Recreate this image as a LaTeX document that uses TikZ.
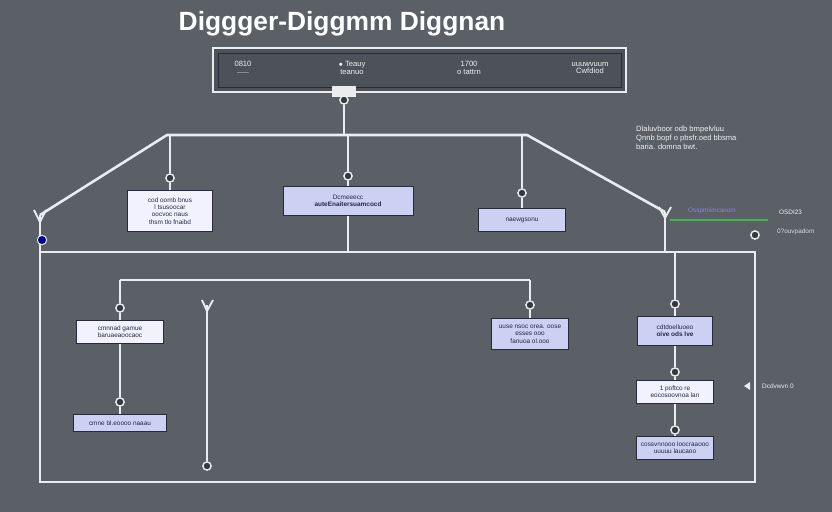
\documentclass[tikz,border=0pt]{standalone}
\usepackage{fontspec}
\setmainfont{Liberation Sans}
\usetikzlibrary{positioning}
\definecolor{bgray}{RGB}{90,96,102}
\definecolor{wline}{RGB}{234,236,240}
\definecolor{boxblue}{RGB}{204,208,242}
\definecolor{boxedge}{RGB}{38,42,58}
\definecolor{txtdark}{RGB}{36,38,70}
\definecolor{hintgreen}{RGB}{70,175,80}
\definecolor{hintpurple}{RGB}{150,125,235}

\begin{document}
\begin{tikzpicture}[x=0.03cm,y=-0.03cm,
    wire/.style={draw=wline, line width=2.2pt},
    dot/.style={circle, draw=wline, fill=bgray!60!black, line width=1.2pt, inner sep=0pt, minimum size=7pt},
    wbox/.style={draw=boxedge, fill=white!95!blue, line width=0.8pt, align=center, text=txtdark,
        font=\fontsize{5.5}{6.3}\selectfont, inner sep=1.5pt},
    bbox/.style={wbox, fill=boxblue},
    note/.style={text=white!88!gray, font=\fontsize{6.5}{7.6}\selectfont, align=left, anchor=west}]

    \useasboundingbox (0,0) rectangle (832,512);
    \fill[bgray] (0,0) rectangle (832,512);

    \node[text=white, font=\bfseries\fontsize{22.5}{25}\selectfont] (title) at (342,24) {Diggger-Diggmm Diggnan};

    % Top panel.
    \fill[bgray!85!black] (213,48) rectangle (626,92);
    \draw[wline, line width=2pt] (213,48) rectangle (626,92);
    \draw[boxedge, line width=0.8pt] (218,53) rectangle (621,87);
    \node[note, anchor=center, align=center] (p1) at (243,68) {0810\\[-1pt]{\tiny ------}};
    \node[note, anchor=center, align=center] (p2) at (352,68) {$\bullet$ Teauy\\[-1pt]teanuo};
    \node[note, anchor=center, align=center] (p3) at (469,68) {1700\\[-1pt]o tattrn};
    \node[note, anchor=center, align=center] (p4) at (590,68) {uuuwvuum\\[-1pt]Cwfdiod};
    \fill[wline] (332,86) rectangle (356,97);
    \node[dot] (d0) at (344,100) {};
    \coordinate (hub) at (344,135);

    % Upper row.
    \node[wbox, minimum width=72pt, minimum height=35pt] (b1) at (170,211) {cod oomb bnus\\l tsusoocar\\oocvoc naus\\thsm tlo fnaibd};
    \node[bbox, minimum width=111pt, minimum height=24pt] (b2) at (348,201) {Dcmeeecc\\\textbf{auteEnaitersuamcocd}};
    \node[bbox, minimum width=74pt, minimum height=20pt] (b3) at (522,220) {naewgsonu};
    \node[dot] (d1) at (170,178) {};
    \node[dot] (d2) at (348,176) {};
    \node[dot] (d3) at (522,193) {};

    \draw[wire] (d0) -- (hub);
    \draw[wire, line join=round] (40,215) -- (167,135) -- (527,135) -- (665,212);
    \draw[wire] (170,135) -- (d1) -- (b1);
    \draw[wire] (348,135) -- (d2) -- (b2) -- (348,252);
    \draw[wire] (522,135) -- (d3) -- (b3);

    % Frame.
    \draw[wire] (40,215) -- (40,482) -- (755,482) -- (755,252) -- (40,252);
    \draw[wire] (665,212) -- (665,252);
    \draw[wline, line width=1.6pt] (34,210) -- (40,222) -- (46,210);
    \draw[wline, line width=1.6pt] (659,207) -- (665,218) -- (671,207);
    \node[circle, fill=blue!55!black, draw=wline, line width=0.8pt, minimum size=8pt, inner sep=0pt] (bl) at (42,240) {};

    % Lower left.
    \node[wbox, minimum width=74pt, minimum height=20pt] (b4) at (120,332) {cmnnad gamue\\baruaeaoocaoc};
    \node[bbox, minimum width=79pt, minimum height=14pt] (b5) at (120,423) {cmne bl.eoooo naaau};
    \node[bbox, minimum width=66pt, minimum height=26pt] (b6) at (530,334) {uuse nsoc orea. oose\\esses ooo\\fanuoa ol.ooo};
    \node[dot] (d4) at (120,308) {};
    \node[dot] (d5) at (120,402) {};
    \node[dot] (d6) at (530,305) {};
    \node[dot] (d10) at (207,466) {};
    \draw[wire] (120,280) -- (530,280);
    \draw[wire] (120,280) -- (d4) -- (b4) -- (d5) -- (b5);
    \draw[wire] (530,280) -- (d6) -- (b6);
    \draw[wire] (207,305) -- (d10);
    \draw[wline, line width=1.6pt] (202,300) -- (207,311) -- (213,300);

    % Right column.
    \node[bbox, minimum width=64pt, minimum height=24pt] (b7) at (675,331) {cdtdoelluoeo\\\textbf{oive ods lve}};
    \node[wbox, minimum width=65pt, minimum height=19pt] (b8) at (675,392) {1 poftco re\\eocosoovnoa lan};
    \node[bbox, minimum width=65pt, minimum height=20pt] (b9) at (675,448) {cossvnnooo loocraaooo\\uuuuu laucaoo};
    \node[dot] (d7) at (675,304) {};
    \node[dot] (d8) at (675,372) {};
    \node[dot] (d9) at (675,430) {};
    \draw[wire] (675,252) -- (d7) -- (b7) -- (d8) -- (b8) -- (d9) -- (b9);

    % Side notes.
    \node[note] (n1) at (632,138) {Dlaluvboor odb bmpelvluu\\Qnnb bopf o pbsfr.oed bbsma\\baria. domna bwt.};
    \draw[hintgreen, line width=1.2pt] (670,220) -- (768,220);
    \node[note, text=hintpurple, font=\fontsize{5.5}{6}\selectfont] (n2) at (684,211) {Osspmiimcsoom};
    \node[note, font=\fontsize{5.5}{6}\selectfont] (n3) at (775,212) {OSDI23};
    \node[dot] (d11) at (755,235) {};
    \node[note, text=white!70!gray, font=\fontsize{5.5}{6}\selectfont] (n4) at (773,232) {0?ouvpadom};
    \fill[wline] (744,386) -- (750,382) -- (750,390) -- cycle;
    \node[note, font=\fontsize{5.5}{6}\selectfont] (n5) at (758,386) {Dcdvwvn 0};
\end{tikzpicture}
\end{document}
